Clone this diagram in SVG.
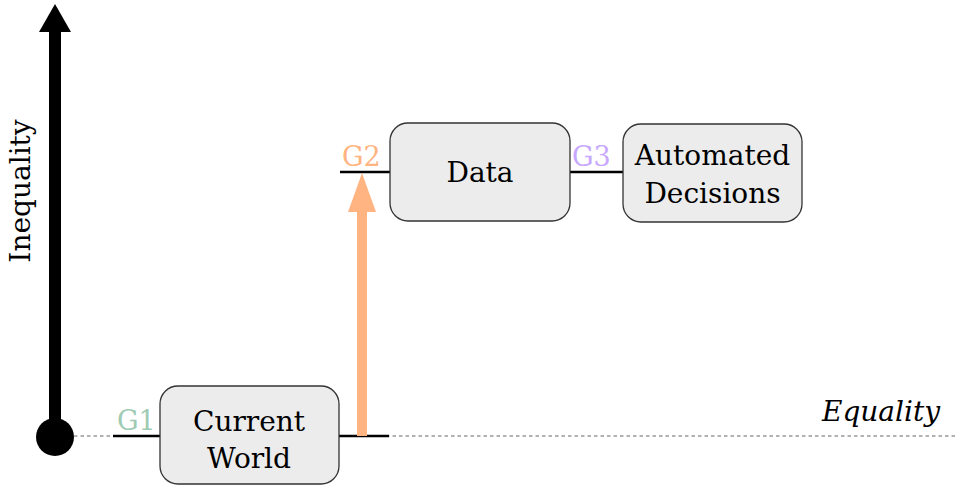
<svg xmlns="http://www.w3.org/2000/svg" width="957" height="486" viewBox="0 0 957 486">
<style>
.box{fill:#ececec;stroke:#333;stroke-width:1.3}
.t{font-family:"DejaVu Serif","Liberation Serif",serif;font-size:28px;fill:#000;text-anchor:middle}
.g{font-family:"DejaVu Serif","Liberation Serif",serif;font-size:27px}
.ln{stroke:#000;stroke-width:2.5;fill:none}
</style>
<rect width="957" height="486" fill="#fff"/>
<g id="connectors">
<line x1="74" y1="436" x2="957" y2="436" stroke="#666" stroke-width="1.2" stroke-dasharray="3.5,3"/>
<line class="ln" x1="113" y1="436" x2="160" y2="436"/>
<line class="ln" x1="339" y1="436" x2="389" y2="436"/>
<line class="ln" x1="340" y1="172" x2="390" y2="172"/>
<line class="ln" x1="570" y1="172" x2="623" y2="172"/>
<rect x="357" y="210" width="10" height="226" fill="#ffb482"/>
<polygon points="362,173 348,212 376,212" fill="#ffb482"/>
<rect x="49" y="30" width="12" height="400" fill="#000"/>
<polygon points="55,4 39,32 71,32" fill="#000"/>
<circle cx="55" cy="437" r="19" fill="#000"/>
</g>
<g id="axis-labels">
<text class="t" transform="translate(30,191) rotate(-90)">Inequality</text>
<text class="t" x="881" y="421" font-style="italic">Equality</text>
</g>
<g id="current-world">
<rect class="box" x="160" y="386" width="179" height="98" rx="18"/>
<text class="t" x="249" y="431">Current</text>
<text class="t" x="249" y="468">World</text>
<text class="g" x="117" y="430" fill="#9fcbb4">G1</text>
</g>
<g id="data">
<rect class="box" x="390" y="123" width="180" height="98" rx="18"/>
<text class="t" x="480" y="182">Data</text>
<text class="g" x="342" y="166" fill="#ffb482">G2</text>
</g>
<g id="automated-decisions">
<rect class="box" x="623" y="124" width="179" height="98" rx="18"/>
<text class="t" x="712.5" y="165">Automated</text>
<text class="t" x="712.5" y="203">Decisions</text>
<text class="g" x="572" y="166" fill="#c8a8ff">G3</text>
</g>
</svg>
